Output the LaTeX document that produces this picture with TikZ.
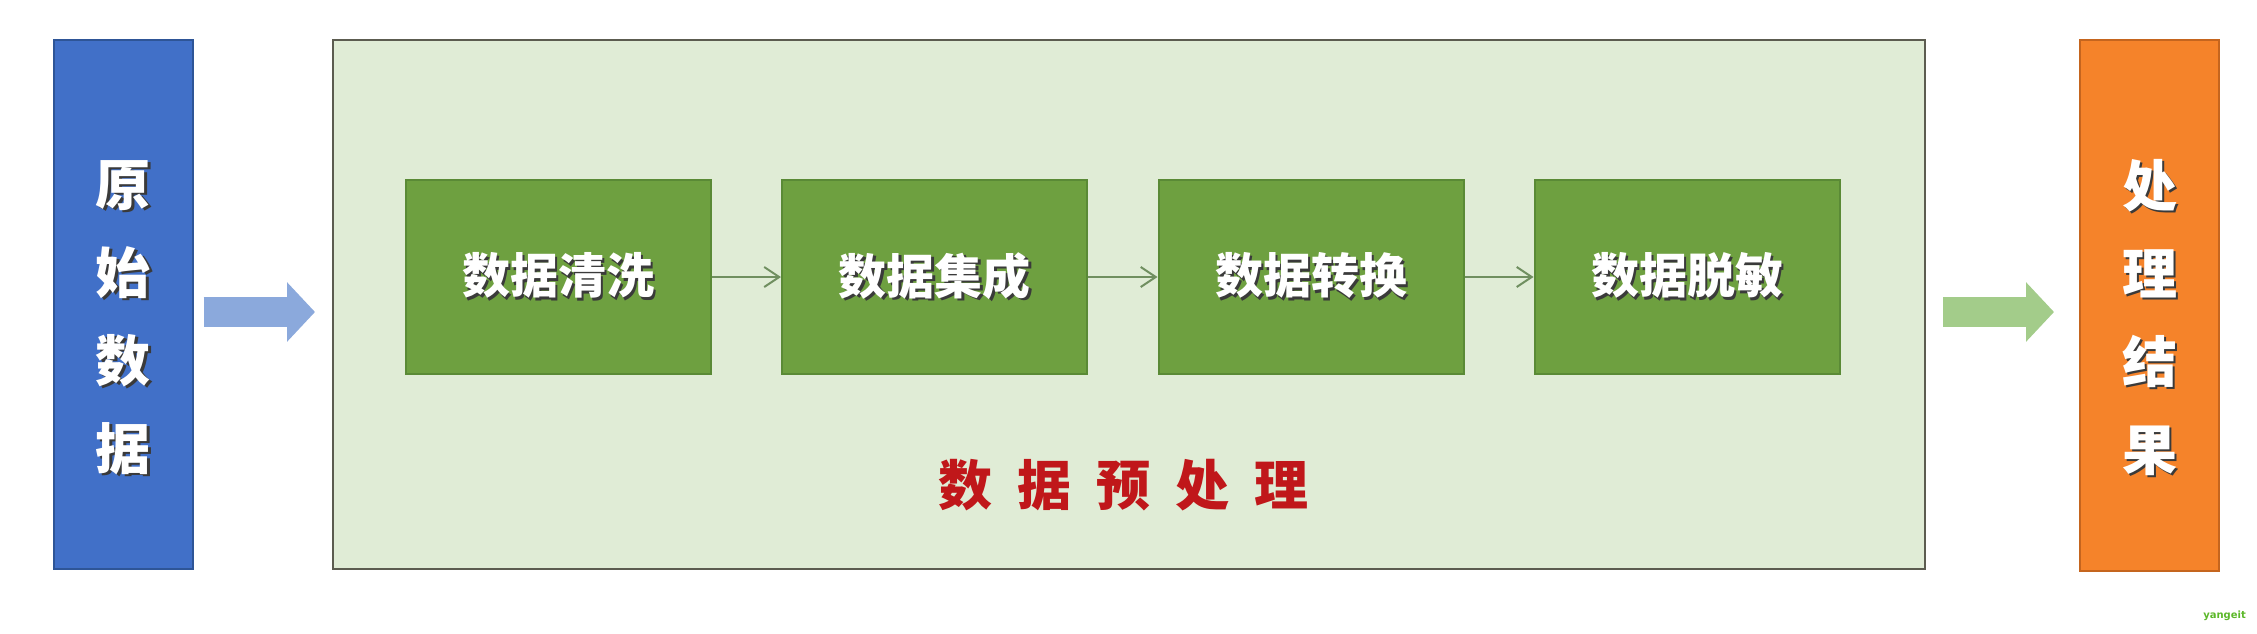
\documentclass[tikz,border=0pt]{standalone}
\usepackage{fontspec}
\newfontfamily\cjk{Noto Sans CJK SC}
\newfontfamily\wmfont{DejaVu Sans}
\usetikzlibrary{arrows.meta}
\definecolor{rawfill}{HTML}{4170C8}
\definecolor{rawline}{HTML}{2E5597}
\definecolor{bluearrow}{HTML}{8BA9DC}
\definecolor{bigfill}{HTML}{E0ECD6}
\definecolor{bigline}{HTML}{5C5C50}
\definecolor{stepfill}{HTML}{6EA040}
\definecolor{stepline}{HTML}{5A8A36}
\definecolor{connc}{HTML}{708F60}
\definecolor{greenarrow}{HTML}{A3CC8A}
\definecolor{resfill}{HTML}{F5832A}
\definecolor{resline}{HTML}{C5651E}
\definecolor{titlered}{HTML}{C0171A}
\definecolor{wmgreen}{HTML}{5CB82A}
\definecolor{shadowc}{HTML}{3A3A3A}
\newcommand{\shd}[1]{\makebox[0pt][l]{\hspace{2.5pt}\raisebox{-2.5pt}{\textcolor{shadowc}{#1}}}#1}
\newcommand{\topstrut}{\rule{0pt}{73pt}}
\tikzset{
  sidebox/.style={draw, line width=2pt, minimum width=139pt, minimum height=529pt, inner sep=0pt,
    text=white, align=center, font=\cjk\bfseries\fontsize{55pt}{88pt}\selectfont},
  bigbox/.style={draw=bigline, fill=bigfill, line width=2pt, minimum width=1592pt, minimum height=529pt, inner sep=0pt},
  stepbox/.style={draw=stepline, fill=stepfill, line width=2pt, minimum width=305pt, minimum height=194pt, inner sep=0pt,
    text=white, font=\cjk\bfseries\fontsize{48pt}{56pt}\selectfont},
  conn/.style={draw=connc, line width=2pt, -{Straight Barb[length=15pt,width=20pt,line width=2pt]}},
  blockarrow/.style={line width=30pt, -{Triangle[length=28pt,width=58pt]}},
}
\begin{document}
\begin{tikzpicture}[x=1pt,y=-1pt]
\useasboundingbox[fill=white] (0,0) rectangle (2257,633);
\node[bigbox] (big) at (1129,304.5) {};
\node[sidebox, fill=rawfill, draw=rawline] (raw) at (123,304.5) {\topstrut\shd{原}\\\shd{始}\\\shd{数}\\\shd{据}};
\node[sidebox, fill=resfill, draw=resline, minimum height=531pt] (res) at (2149.5,305.5) {\topstrut\shd{处}\\\shd{理}\\\shd{结}\\\shd{果}};
\node[stepbox] (s1) at (558,277) {\shd{数据清洗}};
\node[stepbox] (s2) at (934.5,277) {\shd{数据集成}};
\node[stepbox] (s3) at (1311,277) {\shd{数据转换}};
\node[stepbox] (s4) at (1687,277) {\shd{数据脱敏}};
\node[text=titlered, font=\cjk\bfseries\fontsize{54pt}{60pt}\selectfont] (title) at (1123.5,485)
  {数\hspace{25pt}据\hspace{25pt}预\hspace{25pt}处\hspace{25pt}理};
\draw[conn] (s1) -- (s2);
\draw[conn] (s2) -- (s3);
\draw[conn] (s3) -- (s4);
\draw[blockarrow, bluearrow, shorten <=10pt, shorten >=17pt] ([yshift=-7.5pt]raw.east) -- ([yshift=-7.5pt]raw.east -| big.west);
\draw[blockarrow, greenarrow, shorten <=17pt, shorten >=25pt] ([yshift=-7.5pt]big.east) -- ([yshift=-7.5pt]big.east -| res.west);
\node[text=wmgreen, font=\wmfont\bfseries\fontsize{10pt}{12pt}\selectfont] (wm) at (2224.5,616) {yangeit};
\end{tikzpicture}
\end{document}
